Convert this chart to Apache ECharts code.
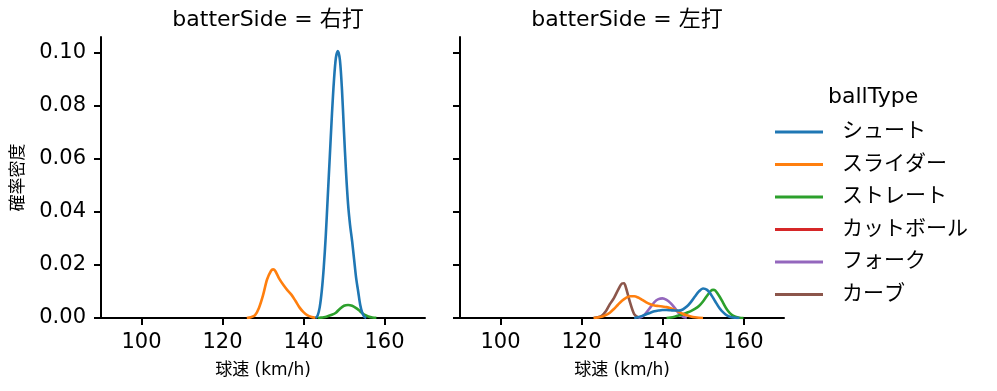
<!DOCTYPE html>
<html><head><meta charset="utf-8">
<script src="https://cdn.jsdelivr.net/npm/echarts@6/dist/echarts.min.js"></script>
<style>html,body{margin:0;padding:0;background:#fff}#c{width:997px;height:391px}</style>
</head><body><div id="c"></div>
<script>
const ballTypes = ['シュート','スライダー','ストレート','カットボール','フォーク','カーブ'];
const colors = ['#1f77b4','#ff7f0e','#2ca02c','#d62728','#9467bd','#8c564b'];
const panelTitles = ['batterSide = 右打','batterSide = 左打'];
const xTicks = [100,120,140,160];
const yTicks = [0,0.02,0.04,0.06,0.08,0.10];

// Left panel (右打)
const R_shoot_x = [143,143.5,144,144.5,145,145.5,146,146.5,147,147.5,148,148.5,149,149.5,150,150.5,151,151.5,152,152.5,153,153.5,154,154.5,155,155.5];
const R_shoot_y = [0,0.001,0.004,0.010,0.019,0.031,0.046,0.061,0.076,0.089,0.098,0.1005,0.097,0.086,0.070,0.055,0.043,0.035,0.029,0.022,0.015,0.010,0.005,0.002,0.0005,0];
const R_slider_x = [126,127,128,129,130,131,132,132.5,133,134,135,136,137,138,139,140,141,142,143];
const R_slider_y = [0,0.0003,0.0010,0.0038,0.0085,0.0145,0.0178,0.0183,0.0178,0.0148,0.0125,0.0105,0.0088,0.0065,0.0040,0.0022,0.0010,0.0004,0.0001];
const R_straight_x = [143.5,144,145,146,147,148,149,150,151,152,153,154,155,156,157,158];
const R_straight_y = [0,0.0001,0.0003,0.0007,0.0012,0.0020,0.0035,0.0046,0.0049,0.0046,0.0037,0.0025,0.0013,0.0006,0.0002,0.0001];

// Right panel (左打)
const L_shoot_x = [133,134,135,136,137,138,139,140,141,142,143,144,145,146,147,148,149,150,151,152,153,154,155,156,157,158,159];
const L_shoot_y = [0,0.0003,0.0008,0.0014,0.0020,0.0025,0.0028,0.0030,0.0030,0.0029,0.0028,0.0028,0.0032,0.0043,0.0060,0.0081,0.0100,0.0111,0.0106,0.0088,0.0063,0.0039,0.0021,0.0009,0.0003,0.0001,0];
const L_slider_x = [123,124,125,126,127,128,129,130,131,132,133,134,135,136,137,138,139,140,141,142,143,144,145,146,147,148,149,150];
const L_slider_y = [0,0.0002,0.0005,0.0011,0.0020,0.0034,0.0050,0.0065,0.0076,0.0082,0.0082,0.0077,0.0068,0.0059,0.0052,0.0047,0.0045,0.0043,0.0041,0.0037,0.0031,0.0024,0.0016,0.0010,0.0006,0.0003,0.0001,0];
const L_straight_x = [141,142,143,144,145,146,147,148,149,150,151,152,152.5,153,154,155,156,157,158,159,160];
const L_straight_y = [0,0.0002,0.0005,0.0009,0.0014,0.0020,0.0026,0.0034,0.0045,0.0062,0.0084,0.0103,0.0106,0.0104,0.0083,0.0056,0.0030,0.0013,0.0005,0.0001,0];
const L_fork_x = [134,135,136,137,138,139,140,141,142,143,144,145,146];
const L_fork_y = [0,0.0005,0.0020,0.0040,0.0060,0.0071,0.0074,0.0068,0.0056,0.0038,0.0018,0.0005,0.0001];
const L_curve_x = [123,124,125,126,127,128,129,130,130.5,131,132,133,134];
const L_curve_y = [0,0.0003,0.0008,0.0025,0.0052,0.0075,0.0105,0.0130,0.0131,0.0113,0.0058,0.0015,0.0002];

const panels = [
  {'シュート':[R_shoot_x,R_shoot_y],'スライダー':[R_slider_x,R_slider_y],'ストレート':[R_straight_x,R_straight_y]},
  {'シュート':[L_shoot_x,L_shoot_y],'スライダー':[L_slider_x,L_slider_y],'ストレート':[L_straight_x,L_straight_y],'フォーク':[L_fork_x,L_fork_y],'カーブ':[L_curve_x,L_curve_y]}
];

const FONT = '"DejaVu Sans", "Noto Sans CJK JP", sans-serif';
const axisLine = {show:true, lineStyle:{color:'#000', width:2}};
const grids = [
  {left:101, top:37, width:324, height:281},
  {left:460, top:37, width:324, height:281}
];
const xAxes = grids.map((g,i)=>({
  type:'value', gridIndex:i, min:90, max:170,
  axisLine, splitLine:{show:false},
  axisTick:{show:true, length:7, lineStyle:{width:2,color:'#000'}, customValues:xTicks},
  axisLabel:{color:'#000', fontSize:21, fontFamily:FONT, margin:14, customValues:xTicks},
  name:'球速 (km/h)', nameLocation:'middle', nameGap:44,
  nameTextStyle:{color:'#000', fontSize:17, fontFamily:FONT}
}));
const yAxes = grids.map((g,i)=>({
  type:'value', gridIndex:i, min:0, max:0.1058,
  axisLine, splitLine:{show:false},
  axisTick:{show:true, length:7, lineStyle:{width:2,color:'#000'}, customValues:yTicks},
  axisLabel:{show:i===0, color:'#000', fontSize:21, fontFamily:FONT, margin:15, customValues:yTicks,
    formatter:v=>v.toFixed(2)},
  name: i===0 ? '確率密度' : '', nameLocation:'middle', nameGap:74, nameRotate:90,
  nameTextStyle:{color:'#000', fontSize:17, fontFamily:FONT}
}));

const series = [];
[0,1].forEach(p=>{
  for (let k=ballTypes.length-1;k>=0;k--){
    const name = ballTypes[k];
    const d = panels[p][name];
    series.push({
      type:'line', name, xAxisIndex:p, yAxisIndex:p, smooth:0.3,
      showSymbol:false, symbol:'none', color:colors[k],
      lineStyle:{width:2.6, color:colors[k]},
      data: d ? d[0].map((x,j)=>[x,d[1][j]]) : []
    });
  }
});

const chart = echarts.init(document.getElementById('c'));
chart.setOption({
  animation:false,
  title:[
    {text:panelTitles[0], left:263, top:4, textAlign:'center', textStyle:{fontSize:22, fontWeight:'normal', color:'#000', fontFamily:FONT}},
    {text:panelTitles[1], left:622, top:4, textAlign:'center', textStyle:{fontSize:22, fontWeight:'normal', color:'#000', fontFamily:FONT}},
    {text:'ballType', left:823, top:81, textStyle:{fontSize:22, fontWeight:'normal', color:'#000', fontFamily:FONT}}
  ],
  legend:{
    data:ballTypes, orient:'vertical', left:770, top:115,
    icon:'rect', itemWidth:48, itemHeight:3, itemGap:8.5,
    textStyle:{fontSize:21, color:'#000', fontFamily:FONT, lineHeight:24, padding:[0,0,0,14]}
  },
  grid:grids, xAxis:xAxes, yAxis:yAxes, series
});
</script></body></html>
